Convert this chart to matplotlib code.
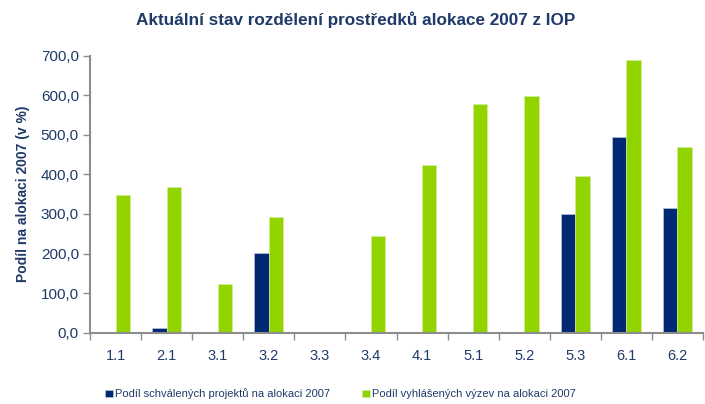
import matplotlib
matplotlib.use("Agg")
import matplotlib.pyplot as plt
import numpy as np
from matplotlib.ticker import FuncFormatter, FixedLocator

categories = ["1.1", "2.1", "3.1", "3.2", "3.3", "3.4", "4.1", "5.1", "5.2", "5.3", "6.1", "6.2"]
schvalene = [0, 11, 0, 202, 0, 0, 0, 0, 0, 300, 495, 314]
vyhlasene = [348, 368, 123, 292, 0, 244, 423, 577, 599, 396, 689, 469]

plt.rcParams['font.family'] = ['Liberation Sans', 'DejaVu Sans']
txt = '#1F3A68'
navy = '#002873'
green = '#92D400'
gray = '#8C8C8C'

fig = plt.figure(figsize=(7.05, 4.04), dpi=100)
ax = fig.add_axes([90/705, 1-332.7/404, 613/705, (332.7-55.7)/404])

x = np.arange(len(categories))
w = 0.28
ax.bar(x - w/2, schvalene, w, color=navy, edgecolor='#C8D0E0', linewidth=0.4, label='Podíl schválených projektů na alokaci 2007')
ax.bar(x + w/2, vyhlasene, w, color=green, edgecolor='#D8F0A0', linewidth=0.4, label='Podíl vyhlášených výzev na alokaci 2007')

ax.set_xlim(-0.5, len(categories) - 0.5)
ax.set_ylim(0, 700)
ax.set_yticks(np.arange(0, 701, 100))
ax.yaxis.set_major_formatter(FuncFormatter(lambda v, p: f"{v:.1f}".replace('.', ',')))
ax.set_xticks(x)
ax.set_xticklabels(categories)
ax.xaxis.set_minor_locator(FixedLocator(np.arange(-0.5, len(categories), 1)))
ax.tick_params(axis='x', which='major', length=0, pad=12, labelsize=10.5, labelcolor=txt)
ax.tick_params(axis='x', which='minor', length=5, width=1, color=gray, direction='out')
ax.tick_params(axis='y', length=5, width=1, color=gray, labelsize=11, labelcolor=txt, pad=3)

for s in ['top', 'right']:
    ax.spines[s].set_visible(False)
for s in ['left', 'bottom']:
    ax.spines[s].set_color(gray)
    ax.spines[s].set_linewidth(1.5)

ax.set_ylabel('Podíl na alokaci 2007 (v %)', fontsize=10, fontweight='bold', color=txt, labelpad=8)
fig.text(356/705, 1-20/404, 'Aktuální stav rozdělení prostředků alokace 2007 z IOP', ha='center', va='center',
         fontsize=12.3, fontweight='bold', color=txt)

fig.legend(loc='center left', bbox_to_anchor=(95/705, 1-394/404), ncol=2, frameon=False,
           fontsize=8, handlelength=0.7, handleheight=0.7, handletextpad=0.2, columnspacing=2.9,
           labelcolor=txt)

fig.savefig('out.png', dpi=100)
